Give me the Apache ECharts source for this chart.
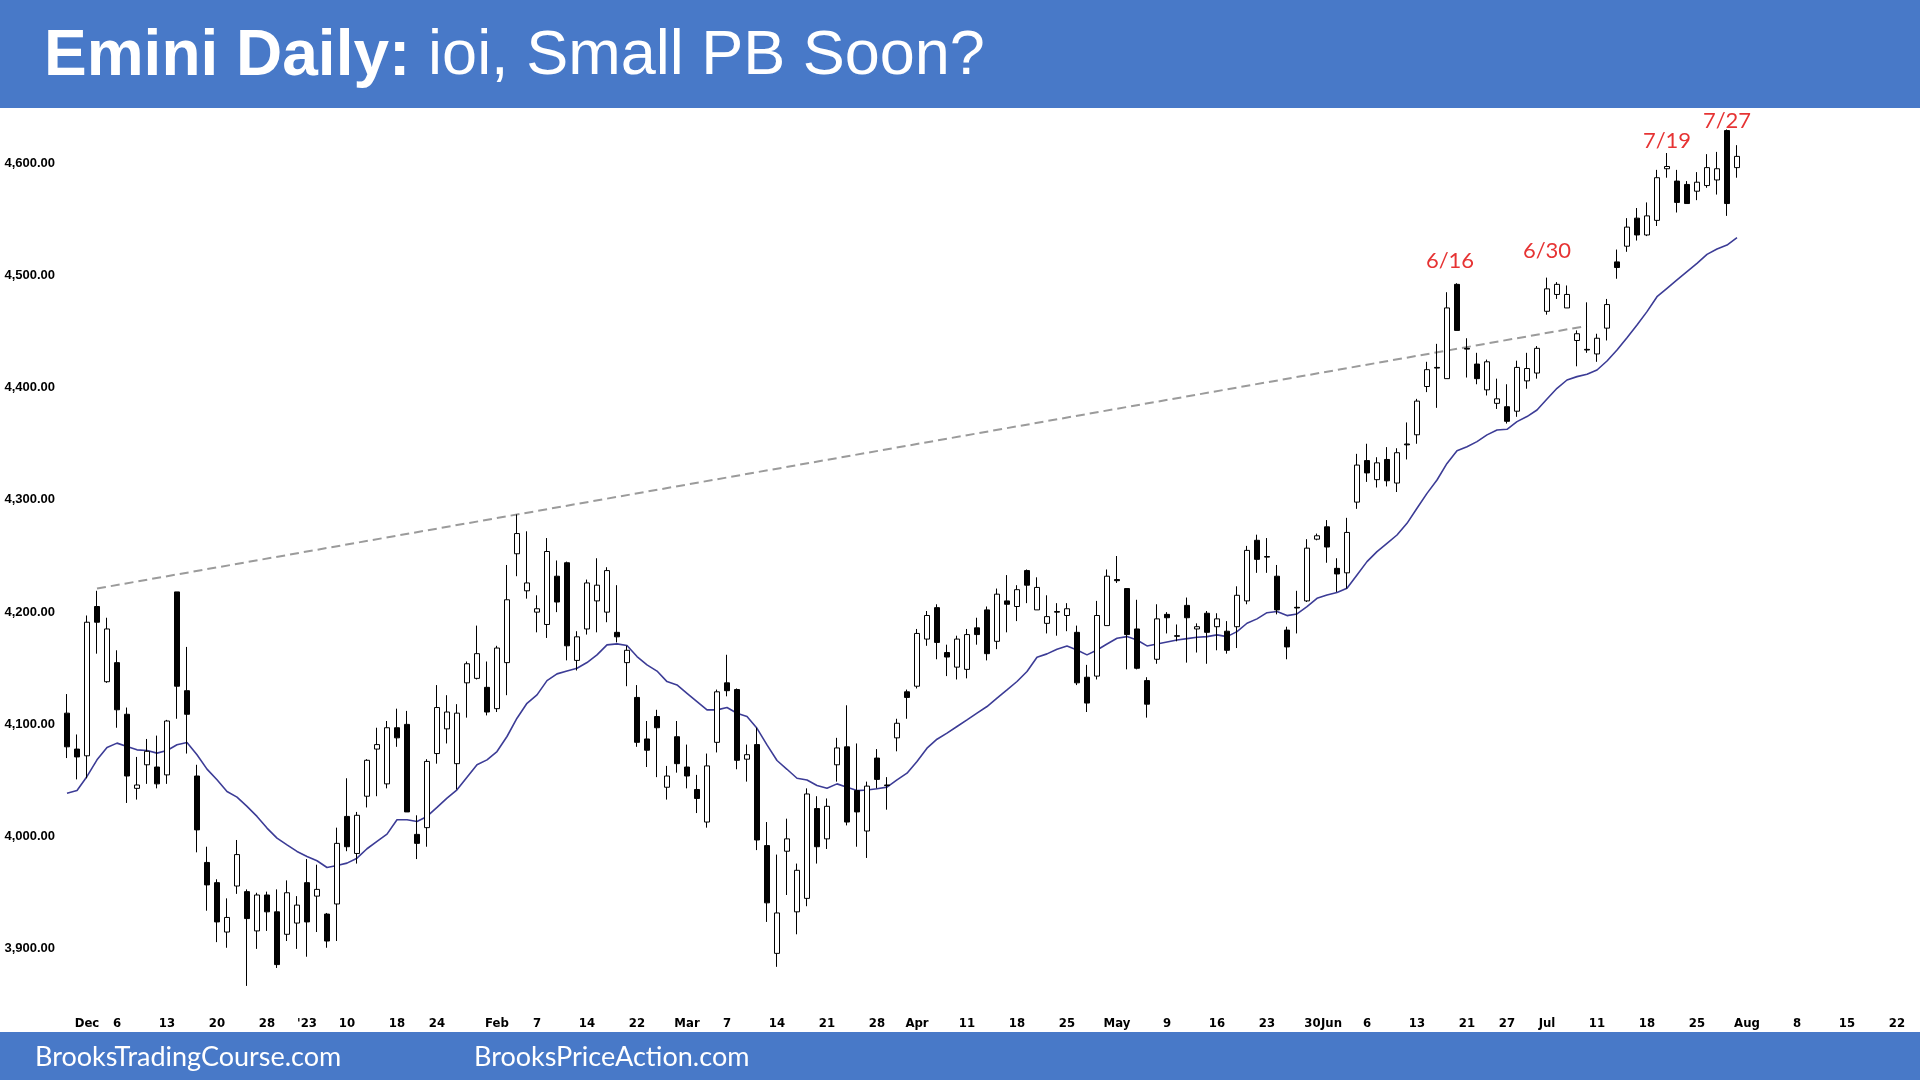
<!DOCTYPE html>
<html><head><meta charset="utf-8">
<script src="https://cdn.jsdelivr.net/npm/echarts@6.0.0/dist/echarts.min.js"></script>
<style>html,body{margin:0;padding:0;background:#fff}#c{width:1920px;height:1080px}</style>
</head><body><div id="c"></div><script>
const opens=[4110,4078,4072,4205,4138,4155,4109,4043,4064,4062,4055,4218,4130,4054,3977,3959,3915,3956,3951,3916,3948,
3933,3913,3923,3959,3947,3931,3940,4018,3985,4036,4078,4047,4097,4100,4002,4008,4074,4096,4065,4137,
4141,4133,4114,4155,4252,4219,4200,4189,4232,4244,4157,4185,4210,4200,4182,4155,4124,4087,4107,4044,
4089,4062,4042,4013,4084,4137,4131,4069,4082,3992,3896,3987,3933,3945,4025,3998,4064,4080,4041,4005,
4070,4046,4088,4129,4134,4176,4204,4164,4151,4149,4186,4202,4174,4210,4205,4237,4202,4190,4200.5,4197,
4182,4142,4143,4188,4229,4221,4185,4139,4158,4198,4179,4206,4185,4199,4187,4183,4187,4210,4264,4249.5,
4232,4184,4204.3,4210,4265,4276,4239,4235,4298,4335,4318,4336,4315,4349.8,4358,4401,4418,4408,4492,4435,
4421,4398,4386,4383,4379,4406,4413,4468,4483,4471,4442,4434.1,4430,4453,4512,4526,4551,4536,4549,4595,4584,4581,4575,4580,4585,4629,4596];
const closes=[4080,4071,4191,4191,4185,4113,4054,4046,4076,4047,4103,4134,4109,4006,3957,3924,3928,3984,3927,3948,3933,
3886,3950,3939,3924,3953,3907,3994,3991,4019,4068,4082,4097,4088,4022,3994,4067,4115,4111,4110,4154,
4163,4111,4168,4211,4270,4226,4203,4254,4209,4170,4178,4226,4224,4237,4178,4166,4084,4077,4097,4054,
4065,4054,4034,4063,4129,4130,4068,4073,3997,3941,3932,3998,3970,4038,3991,4027,4079,4013,4022,4045,
4051,4045.5,4101,4124,4181,4197,4173,4160,4176,4180,4180,4163,4216,4207,4220,4224,4222,4196,4200,4203,
4137,4119,4197,4232,4228,4180,4150,4118,4194,4195,4178.5,4195,4187,4182,4194,4166,4215,4255,4247,4249,
4202,4169,4203.7,4257,4268,4258,4234,4271,4331,4324,4333,4317,4342,4349,4388,4416,4417.4,4471,4451,4434.3,
4408,4423,4390,4370,4418,4417,4435,4488,4492,4483,4448,4433.5,4444,4474,4507,4543,4536,4553,4587,4597,4565,4564,4583,4596,4595,4564,4606];
const lows=[4070,4051,4052,4163,4137,4097,4030,4033,4047,4043,4047,4105,4074,3986,3934,3906,3901,3949,3867,3900,3916,
3883,3907,3900,3893,3915,3901,3907,3987,3976,4026,4036,4043,4080,4022,3980,3991,4065,4083,4042,4106,
4140,4108,4111,4126,4232,4212,4182,4177,4200,4157,4148,4180,4182,4191,4173,4134,4080,4062,4053,4033,
4057,4043,4021,4008,4075,4125,4060,4049,3988,3924,3884,3948,3913,3938,3976,3989,4049,4010,3991,3981,
4043,4024,4076,4105,4132,4170,4158,4143,4140,4141,4171,4157,4167,4182,4192,4208,4202,4181,4179,4183,
4135,4111,4140,4188,4226,4149,4149,4106,4154,4181,4174,4155,4164,4154,4166,4163,4168,4207,4235,4235,
4198,4158,4181,4209,4264,4244,4218,4221,4292,4316,4311,4312,4307,4336,4350,4396,4382,4408,4451,4409,
4403,4393,4381,4368,4374,4399,4408,4465,4479,4471,4419,4431,4423,4442,4497,4521,4531,4535,4544,4587,4556,4564,4567,4578,4572,4553,4587];
const highs=[4127,4091,4197,4219,4195,4166,4115,4071,4087,4090,4104,4218,4169,4064,3991,3962,3945,3997,3953,3950,3951,
3953,3961,3947,3980,3975,3932,4008,4052,4022,4069,4097,4103,4114,4112,4019,4069,4135,4126,4118,4156,
4188,4156,4170,4242,4287,4272,4215,4266,4246,4245,4183,4229,4248,4240,4224,4170,4135,4103,4113,4063,
4103,4082,4055,4074,4131,4162,4132,4082,4097,4013,3984,4016,3976,4043,4036,4034,4088,4117,4083,4049,
4078,4053,4105,4131,4185,4201,4207,4171,4179,4185,4195,4205,4221,4233,4224,4238,4231,4215,4208,4208,
4188,4153,4210,4238,4250,4221,4211,4142,4207,4200,4189,4213,4190,4201,4199,4192,4223,4259,4269,4266,
4242,4187,4219,4265,4270,4282,4248,4284,4341,4350,4338,4347,4346,4369,4390,4423,4439,4485,4493,4444,
4431,4425,4408,4403,4424,4431,4437,4498,4494,4491,4451,4476,4448,4479,4523,4551,4560,4565,4594,4609,4594,4584,4592,4608,4610,4630,4616];
const movingAvg=[4038.7,4041.1,4053.6,4068.4,4079.4,4083.3,4080.3,4077.3,4076.7,4074.4,4076.7,4081.8,4083.9,4072.9,4060.1,4050.6,4040.2,4035.2,4026.9,4018,4007.6,
3998.7,3992.7,3986.8,3982.3,3978.5,3972.5,3974.3,3976.4,3980.8,3989.2,3995.7,4002.2,4015,4015,4013.5,4018,4026,4034.3,4041.7,4053,
4064,4068.4,4075.8,4089.2,4105.5,4118.8,4126.3,4139,4145,4147.6,4150,4155.1,4161.9,4170.8,4171.7,4170.2,4160.4,4153,4147.5,4138.1,
4135.1,4127.7,4120.3,4112.9,4112.9,4115,4109.9,4107,4096.5,4081.7,4067.8,4060,4052,4050.5,4045.5,4043.1,4047,4044,4041,4041.6,
4042.6,4044.1,4050.6,4056.5,4066.9,4078.8,4086.8,4092.2,4098.1,4104,4110,4115.9,4123.3,4130.7,4138.2,4147.1,4159.8,4162.8,4167,4169.8,
4166.3,4161.9,4166.3,4171.6,4176.7,4178.2,4175.2,4169.9,4171.6,4173.4,4175.2,4176.4,4177.6,4178.2,4179.7,4178.2,4182.6,4190.1,4194,4199.5,
4200.5,4196.9,4198.4,4204.9,4212.3,4215.3,4217.4,4221.3,4233.1,4245,4253.9,4261.3,4268.7,4279.1,4292.5,4305.8,4317.7,4332.5,4343.8,4347.4,
4351.9,4357.9,4362.3,4362.9,4369.7,4374.2,4380.1,4389.9,4399.4,4406.8,4409.8,4411.9,4415.7,4423.7,4433.5,4444.5,4455.8,4467.7,4481,4488.5,4495.9,4503.3,4510.7,4518.7,4523.5,4527,4533.6];

// x-axis: one slot per trading day, extending past the data into August
const slotCount = 185;
const tickIdx = [3,6,11,16,21,25,29,34,38,44,48,53,58,63,67,72,77,82,86,91,96,101,106,111,116,121,126,127,131,136,141,145,149,154,159,164,169,174,179,184];
const tickText = ['Dec','6','13','20','28',"'23",'10','18','24','Feb','7','14','22','Mar','7','14','21','28','Apr','11','18','25','May','9','16','23','30','Jun','6','13','21','27','Jul','11','18','25','Aug','8','15','22'];

// dashed trend line (slot index 0-based, price)
const trendIdx = [3, 152];
const trendPrice = [4221, 4455];

// red date callouts
const calloutText = ['6/16','6/30','7/19','7/27'];
const calloutIdx = [139, 148, 160, 166];
const calloutPrice = [4513, 4522, 4620, 4638];

const categories = Array.from({length: slotCount}, (_, i) => 's' + (i + 1));
const tickMap = {};
tickIdx.forEach((t, k) => { tickMap[t - 1] = tickText[k]; });
const candleData = opens.map((o, i) => [o, closes[i], lows[i], highs[i]]);

const chart = echarts.init(document.getElementById('c'), null, {renderer: 'canvas'});
const xFont = "'DejaVu Sans Condensed','Liberation Sans Narrow',sans-serif";
const xStyle = {fontFamily: xFont, fontWeight: 'bold', fontSize: 13, color: '#000'};
chart.setOption({
  animation: false,
  backgroundColor: '#ffffff',
  grid: {left: 62, width: 1850, top: 107, height: 898, containLabel: false},
  xAxis: {
    type: 'category', data: categories, boundaryGap: true,
    axisLine: {show: false}, axisTick: {show: false}, splitLine: {show: false},
    axisLabel: {
      interval: 0, margin: 12, hideOverlap: false,
      formatter: (v, i) => {
        const t = tickMap[i];
        if (!t) return '';
        if (t === '30' && i === 125) return '{l|' + t + '}';
        if (t === 'Jun') return '{r|' + t + '}';
        return '{n|' + t + '}';
      },
      rich: {
        n: xStyle,
        l: Object.assign({}, xStyle, {padding: [0, 9, 0, 0]}),
        r: Object.assign({}, xStyle, {padding: [0, 0, 0, 9]})
      }
    }
  },
  yAxis: {
    type: 'value', min: 3850, max: 4650, interval: 50, scale: true,
    axisLine: {show: false}, axisTick: {show: false}, splitLine: {show: false},
    axisLabel: {
      margin: 7, fontFamily: "'Liberation Sans',Arial,sans-serif", fontWeight: 'bold', fontSize: 13, color: '#000',
      formatter: v => (v % 100 === 0) ? v.toLocaleString('en-US', {minimumFractionDigits: 2, maximumFractionDigits: 2}) : ''
    }
  },
  series: [
    {
      type: 'line', name: 'trend', silent: true, z: 1,
      data: trendIdx.map((x, k) => [x, trendPrice[k]]),
      symbol: 'none', lineStyle: {color: '#9b9b9b', width: 2, type: [9, 5]}
    },
    {
      type: 'line', name: 'ema', silent: true, z: 2,
      data: movingAvg, symbol: 'none', smooth: false,
      lineStyle: {color: '#3c3c96', width: 1.6}
    },
    {
      type: 'candlestick', name: 'ES', z: 3, barWidth: 5,
      data: candleData,
      itemStyle: {color: '#ffffff', color0: '#000000', borderColor: '#000000', borderColor0: '#000000', borderColorDoji: '#000000', borderWidth: 1}
    },
    {
      type: 'scatter', name: 'callouts', silent: true, z: 4,
      symbolSize: 0,
      data: calloutIdx.map((x, k) => ({value: [x, calloutPrice[k]], name: calloutText[k], label: {offset: [k === 0 ? -7 : 0, 0]}})),
      label: {show: true, position: 'inside', formatter: '{b}', color: '#e00000', fontSize: 22, fontFamily: "Lato,'Open Sans',sans-serif"}
    }
  ],
  graphic: [
    {type: 'rect', z: 10, shape: {x: 0, y: 0, width: 1920, height: 108}, style: {fill: '#4879c8'}},
    {type: 'text', z: 11, x: 44, y: 57, style: {
      text: '{b|Emini Daily:\u00a0}{r|ioi, Small PB Soon?}', verticalAlign: 'middle', align: 'left',
      rich: {
        b: {fontFamily: "'Liberation Sans',Arial,sans-serif", fontWeight: 'bold', fontSize: 64, fill: '#ffffff'},
        r: {fontFamily: "'Liberation Sans',Arial,sans-serif", fontSize: 63, fill: '#ffffff'}
      }
    }},
    {type: 'rect', z: 10, shape: {x: 0, y: 1032, width: 1920, height: 48}, style: {fill: '#4879c8'}},
    {type: 'text', z: 11, x: 35, y: 1057, style: {text: 'BrooksTradingCourse.com', fill: '#ffffff', font: "27px Lato, 'Open Sans', sans-serif", verticalAlign: 'middle'}},
    {type: 'text', z: 11, x: 474, y: 1057, style: {text: 'BrooksPriceAction.com', fill: '#ffffff', font: "27px Lato, 'Open Sans', sans-serif", verticalAlign: 'middle'}}
  ]
});
</script></body></html>
